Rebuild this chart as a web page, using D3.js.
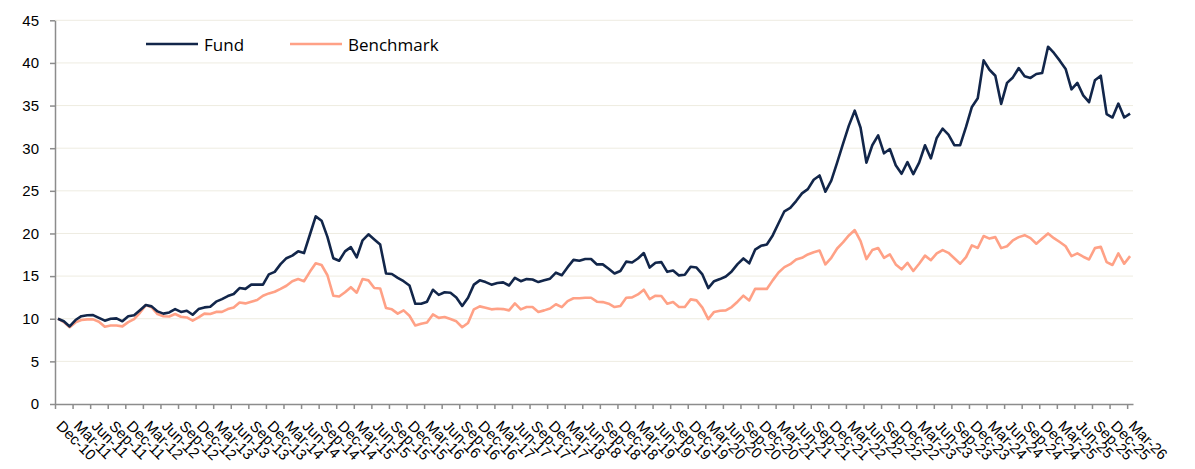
<!DOCTYPE html>
<html>
<head>
<meta charset="utf-8">
<script src="https://cdn.jsdelivr.net/npm/d3@7"></script>
<style>
  body { margin: 0; background: #fff; }
  svg { display: block; font-family: "Open Sans", sans-serif; }
  .grid line { stroke: #EEECE1; stroke-width: 1; }
  .axis path, .axis line { stroke: #8C8C8C; stroke-width: 1.5; }
  .axis text { fill: #000; }
</style>
</head>
<body>
<svg id="chart" width="1195" height="469"></svg>
<script>
// quarterly axis labels, Dec-10 .. Mar-26 (one every 3 months)
var tickLabels = ["Dec-10","Mar-11","Jun-11","Sep-11","Dec-11","Mar-12","Jun-12","Sep-12","Dec-12",
  "Mar-13","Jun-13","Sep-13","Dec-13","Mar-14","Jun-14","Sep-14","Dec-14","Mar-15","Jun-15","Sep-15",
  "Dec-15","Mar-16","Jun-16","Sep-16","Dec-16","Mar-17","Jun-17","Sep-17","Dec-17","Mar-18","Jun-18",
  "Sep-18","Dec-18","Mar-19","Jun-19","Sep-19","Dec-19","Mar-20","Jun-20","Sep-20","Dec-20","Mar-21",
  "Jun-21","Sep-21","Dec-21","Mar-22","Jun-22","Sep-22","Dec-22","Mar-23","Jun-23","Sep-23","Dec-23",
  "Mar-24","Jun-24","Sep-24","Dec-24","Mar-25","Jun-25","Sep-25","Dec-25","Mar-26"];

// monthly values, Dec-10 .. Mar-26
var fund = [
  10.0, 9.7, 9.1, 9.85, 10.3, 10.4, 10.43, 10.1, 9.77, 10.0, 10.04, 9.7,
  10.3, 10.4, 11.0, 11.6, 11.45, 10.86, 10.6, 10.74, 11.13, 10.8, 10.94, 10.47,
  11.13, 11.33, 11.4, 12.0, 12.3, 12.66, 12.9, 13.6, 13.5, 14.0, 14.0, 14.0,
  15.2, 15.5, 16.4, 17.1, 17.4, 17.9, 17.7, 19.85, 22.0, 21.5, 19.6, 17.1,
  16.8, 17.9, 18.4, 17.2, 19.2, 19.9, 19.3, 18.7, 15.3, 15.25, 14.8, 14.4,
  13.9, 11.75, 11.75, 12.0, 13.4, 12.8, 13.1, 13.05, 12.5, 11.5, 12.46, 14.0,
  14.5, 14.3, 14.0, 14.2, 14.26, 13.9, 14.8, 14.4, 14.65, 14.6, 14.3, 14.5,
  14.7, 15.4, 15.1, 16.05, 16.9, 16.8, 17.0, 17.0, 16.37, 16.37, 15.86, 15.3,
  15.6, 16.7, 16.6, 17.07, 17.7, 16.0, 16.56, 16.64, 15.5, 15.66, 15.08, 15.15,
  16.1, 16.0, 15.2, 13.6, 14.4, 14.65, 14.96, 15.55, 16.4, 17.07, 16.5, 18.1,
  18.55, 18.7, 19.77, 21.2, 22.6, 23.0, 23.8, 24.7, 25.2, 26.3, 26.8, 24.9,
  26.2, 28.3, 30.5, 32.65, 34.4, 32.4, 28.3, 30.35, 31.5, 29.4, 29.9, 28.0,
  27.0, 28.36, 26.95, 28.3, 30.35, 28.8, 31.2, 32.3, 31.6, 30.35, 30.35, 32.5,
  34.84, 35.86, 40.3, 39.2, 38.5, 35.2, 37.66, 38.3, 39.4, 38.44, 38.24, 38.7,
  38.83, 41.9, 41.17, 40.27, 39.3, 36.9, 37.66, 36.2, 35.4, 37.97, 38.5, 34.0,
  33.6, 35.23, 33.6, 34.06
];
var benchmark = [
  10.0, 9.6, 9.0, 9.57, 9.85, 9.92, 9.92, 9.65, 9.06, 9.2, 9.2, 9.1,
  9.6, 9.96, 10.7, 11.6, 11.33, 10.55, 10.3, 10.27, 10.55, 10.23, 10.15, 9.77,
  10.15, 10.6, 10.55, 10.8, 10.8, 11.13, 11.33, 11.9, 11.8, 12.0, 12.2, 12.7,
  12.97, 13.16, 13.5, 13.87, 14.4, 14.65, 14.4, 15.5, 16.5, 16.3, 15.1, 12.7,
  12.6, 13.1, 13.7, 13.05, 14.65, 14.5, 13.6, 13.55, 11.25, 11.1, 10.6, 10.98,
  10.35, 9.2, 9.4, 9.57, 10.5, 10.1, 10.2, 9.96, 9.7, 9.0, 9.5, 11.1,
  11.45, 11.3, 11.1, 11.17, 11.13, 10.98, 11.8, 11.1, 11.37, 11.37, 10.8, 10.98,
  11.2, 11.7, 11.37, 12.07, 12.4, 12.4, 12.46, 12.46, 12.0, 11.95, 11.76, 11.37,
  11.5, 12.46, 12.5, 12.85, 13.4, 12.3, 12.7, 12.66, 11.76, 11.95, 11.37, 11.37,
  12.27, 12.15, 11.3, 9.96, 10.8, 10.94, 10.98, 11.37, 12.0, 12.7, 12.15, 13.5,
  13.5, 13.5, 14.5, 15.43, 16.05, 16.4, 16.95, 17.15, 17.54, 17.8, 18.0, 16.37,
  17.15, 18.24, 18.95, 19.77, 20.4, 19.1, 17.0, 18.05, 18.3, 17.15, 17.54, 16.37,
  15.8, 16.56, 15.6, 16.45, 17.4, 16.87, 17.66, 18.05, 17.73, 17.1, 16.45, 17.23,
  18.6, 18.3, 19.7, 19.4, 19.57, 18.28, 18.5, 19.2, 19.57, 19.8, 19.45, 18.8,
  19.4, 20.0, 19.45, 19.0, 18.5, 17.34, 17.66, 17.27, 16.95, 18.28, 18.44, 16.64,
  16.3, 17.66, 16.45, 17.34
];
var yTicks = [0, 5, 10, 15, 20, 25, 30, 35, 40, 45];

var seriesNames = ["Fund", "Benchmark"];
var seriesColors = ["#12264A", "#FFA186"];

var svg = d3.select("#chart");
var padLeft = 55, padRight = 1133, padTop = 20.3, padBottom = 404;
var nMonths = fund.length;

var x = d3.scaleLinear().domain([0, nMonths]).range([padLeft, padRight]);
var y = d3.scaleLinear().domain([0, 45]).range([padBottom, padTop]);

// gridlines
svg.append("g").attr("class", "grid")
  .selectAll("line").data(yTicks.slice(1)).enter()
  .append("line")
  .attr("x1", padLeft).attr("x2", padRight)
  .attr("y1", function(d){ return y(d); })
  .attr("y2", function(d){ return y(d); });

// y axis
var yAxis = svg.append("g").attr("class", "axis")
  .attr("transform", "translate(" + padLeft + ",0)")
  .call(d3.axisLeft(y).tickValues(yTicks).tickSize(5).tickSizeOuter(0).tickPadding(11));
yAxis.selectAll("text").style("font-size", "15px");

// x axis: a tick every 3 months on category boundaries
var tickIdx = tickLabels.map(function(d, i){ return i * 3; });
var xAxis = svg.append("g").attr("class", "axis")
  .attr("transform", "translate(0," + padBottom + ")")
  .call(d3.axisBottom(x).tickValues(tickIdx).tickSize(5).tickSizeOuter(0)
    .tickFormat(function(d){ return tickLabels[d / 3]; }));
xAxis.selectAll("text")
  .style("font-size", "15px")
  .attr("text-anchor", "start")
  .attr("dy", null)
  .attr("y", null)
  .attr("transform", "translate(0,23) rotate(45)");

// lines
var line = d3.line()
  .x(function(d, i){ return x(i + 0.5); })
  .y(function(d){ return y(d); });

[benchmark, fund].forEach(function(s, k){
  var c = k === 0 ? seriesColors[1] : seriesColors[0];
  svg.append("path")
    .attr("d", line(s))
    .attr("fill", "none")
    .attr("stroke", c)
    .attr("stroke-width", 2.6)
    .attr("stroke-linejoin", "round");
});

// legend
var legendX = [146, 290];
var legend = svg.append("g").selectAll("g").data(seriesNames).enter()
  .append("g")
  .attr("transform", function(d, i){ return "translate(" + legendX[i] + ",44)"; });
legend.append("line")
  .attr("x1", 0).attr("x2", 52)
  .attr("stroke", function(d, i){ return seriesColors[i]; })
  .attr("stroke-width", 2.6);
legend.append("text")
  .attr("x", 58).attr("y", 7)
  .style("font-size", "17px")
  .text(function(d){ return d; });
</script>
</body>
</html>
